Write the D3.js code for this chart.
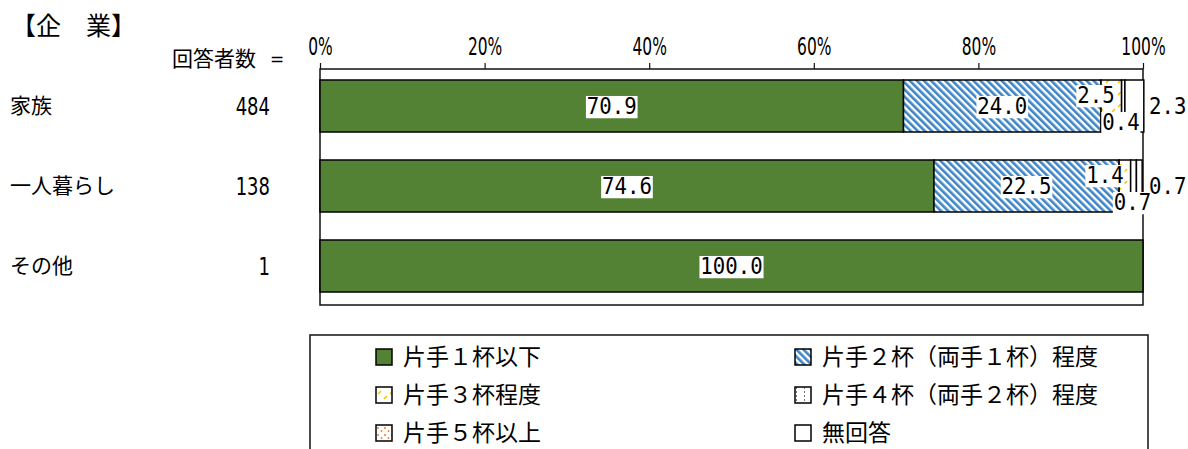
<!DOCTYPE html>
<html>
<head>
<meta charset="utf-8">
<script src="https://cdn.jsdelivr.net/npm/d3@7"></script>
<style>
  body { margin: 0; background: #fff; }
  svg { display: block; }
</style>
</head>
<body>
<div id="chart"></div>
<script>
// data
const categories = ["家族", "一人暮らし", "その他"];
const counts = [484, 138, 1];
const seriesNames = ["片手１杯以下", "片手２杯（両手１杯）程度", "片手３杯程度",
                     "片手４杯（両手２杯）程度", "片手５杯以上", "無回答"];
const rowValues = [
    [70.9, 24.0, 2.5, 0.4, 0.0, 2.3],
    [74.6, 22.5, 1.4, 0.7, 0.0, 0.7],
    [100.0, 0.0, 0.0, 0.0, 0.0, 0.0]
];
const tickValues = [0, 20, 40, 60, 80, 100];

const W = 1188, H = 449;
const jpFont = "'Noto Sans CJK JP', 'Noto Sans', sans-serif";
const numFont = "'DejaVu Sans Mono', monospace";
const narrowFont = "'DejaVu Sans', sans-serif";

const svg = d3.select("#chart").append("svg")
    .attr("width", W)
    .attr("height", H);

// fill patterns
const defs = svg.append("defs");
const fills = ["#548235", "url(#p2)", "url(#p3)", "url(#p4)", "url(#p5)", "#fff"];

const p2 = defs.append("pattern").attr("id", "p2")
    .attr("patternUnits", "userSpaceOnUse")
    .attr("width", 5).attr("height", 5)
    .attr("patternTransform", "rotate(-45)");
p2.append("rect").attr("width", 5).attr("height", 5).attr("fill", "#fff");
p2.append("rect").attr("width", 2.6).attr("height", 5).attr("fill", "#3d85c6");

const p3 = defs.append("pattern").attr("id", "p3")
    .attr("patternUnits", "userSpaceOnUse")
    .attr("width", 12).attr("height", 12);
p3.append("rect").attr("width", 12).attr("height", 12).attr("fill", "#fff");
p3.append("path").attr("d", "M2,11 L5,8 M8,4 L11,1")
    .attr("stroke", "#ffc000").attr("stroke-width", 1.6);

const p4 = defs.append("pattern").attr("id", "p4")
    .attr("patternUnits", "userSpaceOnUse")
    .attr("width", 8).attr("height", 4);
p4.append("rect").attr("width", 8).attr("height", 4).attr("fill", "#fff");
p4.append("rect").attr("x", 1).attr("width", 1).attr("height", 2).attr("fill", "#777");

const p5 = defs.append("pattern").attr("id", "p5")
    .attr("patternUnits", "userSpaceOnUse")
    .attr("width", 7).attr("height", 7);
p5.append("rect").attr("width", 7).attr("height", 7).attr("fill", "#fff");
p5.append("circle").attr("cx", 2).attr("cy", 2).attr("r", 1).attr("fill", "#ed7d31");
p5.append("circle").attr("cx", 5.5).attr("cy", 5).attr("r", 0.9).attr("fill", "#ed7d31");

// scales
const x = d3.scaleLinear().domain([0, 100]).range([320, 1143]);
const y = d3.scaleBand().domain(categories).range([66, 306])
    .paddingInner(0.35).paddingOuter(0.175);

const table = categories.map((c, i) => {
    const row = { cat: c };
    seriesNames.forEach((s, j) => row[s] = rowValues[i][j]);
    return row;
});
const stacked = d3.stack().keys(seriesNames)(table);

// title and headers
svg.append("text")
    .attr("x", 11).attr("y", 35)
    .style("font-family", jpFont).style("font-size", "25px")
    .text("【企　業】");

svg.append("text")
    .attr("x", 172).attr("y", 66)
    .style("font-family", jpFont).style("font-size", "21px")
    .text("回答者数");
svg.append("text")
    .attr("x", 270).attr("y", 65)
    .style("font-family", narrowFont).style("font-size", "17px")
    .text("=");

// plot frame
svg.append("rect")
    .attr("x", x(0)).attr("y", 69)
    .attr("width", x(100) - x(0)).attr("height", 236)
    .attr("fill", "none").attr("stroke", "#111").attr("stroke-width", 1.5);

// top axis
const axis = svg.append("g")
    .attr("transform", "translate(0,69)")
    .call(d3.axisTop(x).tickValues(tickValues).tickFormat(d => d + "%")
        .tickSize(6).tickSizeOuter(0).tickPadding(8));
axis.select(".domain").remove();
axis.selectAll("line").attr("stroke", "#111").attr("stroke-width", 1.2);
axis.selectAll("text")
    .attr("transform", "scale(0.62,1)")
    .style("font-family", narrowFont).style("font-size", "25px").attr("fill", "#000");

// row labels
svg.append("g").selectAll("text").data(categories).join("text")
    .attr("x", 10).attr("y", d => y(d) + y.bandwidth() / 2 + 7)
    .style("font-family", jpFont).style("font-size", "21px")
    .text(d => d);

svg.append("g").selectAll("text").data(categories).join("text")
    .attr("transform", d => `translate(270,${y(d) + y.bandwidth() / 2 + 9}) scale(0.72,1)`)
    .attr("text-anchor", "end")
    .style("font-family", narrowFont).style("font-size", "25px")
    .text((d, i) => counts[i]);

// segments
const segs = [];
stacked.forEach((layer, j) => {
    layer.forEach((s, i) => {
        if (rowValues[i][j] > 0) segs.push({ j, i, x0: s[0], x1: s[1], v: rowValues[i][j], cat: categories[i] });
    });
});

svg.append("g").selectAll("rect").data(segs).join("rect")
    .attr("x", d => x(d.x0))
    .attr("y", d => y(d.cat))
    .attr("width", d => x(d.x1) - x(d.x0))
    .attr("height", y.bandwidth())
    .attr("fill", d => fills[d.j])
    .attr("stroke", "#000")
    .attr("stroke-width", 1.5);

// value labels with white boxes
const labelG = svg.append("g");
segs.forEach(d => {
    const top = y(d.cat), bot = top + y.bandwidth(), mid = top + y.bandwidth() / 2;
    let lx, ly, anchor = "middle";
    if (d.v >= 5) {
        lx = (x(d.x0) + x(d.x1)) / 2; ly = mid + 8;
    } else if (d.j === 2) {
        lx = x(d.x1) - 7; ly = top + 23; anchor = "end";
    } else if (d.j === 3) {
        lx = x(d.x1) - 4; ly = bot - 2;
    } else {
        lx = x(100) + 6; ly = mid + 8; anchor = "start";
    }
    const g = labelG.append("g").attr("transform", `translate(${lx},${ly}) scale(0.9,1)`);
    const t = g.append("text")
        .attr("text-anchor", anchor)
        .style("font-family", numFont).style("font-size", "23px")
        .text(d.v.toFixed(1));
    const bb = t.node().getBBox();
    if (d.v >= 5 || d.j !== 5) {
        g.insert("rect", "text")
            .attr("x", bb.x - 1).attr("y", bb.y + 3)
            .attr("width", bb.width + 2).attr("height", bb.height - 4)
            .attr("fill", "#fff");
    }
});

// legend
svg.append("rect")
    .attr("x", 310).attr("y", 335)
    .attr("width", 838).attr("height", 140)
    .attr("fill", "#fff").attr("stroke", "#111").attr("stroke-width", 1.5);

const legCols = [376, 795], legRows = [357, 395, 433];
const leg = svg.append("g").selectAll("g").data(seriesNames).join("g")
    .attr("transform", (d, i) => `translate(${legCols[i % 2]},${legRows[Math.floor(i / 2)]})`);
leg.append("rect")
    .attr("x", 0).attr("y", -8).attr("width", 16).attr("height", 16)
    .attr("fill", (d, i) => fills[i])
    .attr("stroke", "#000").attr("stroke-width", 1.5);
leg.append("text")
    .attr("x", 27).attr("y", 8)
    .style("font-family", jpFont).style("font-size", "23px")
    .text(d => d);
</script>
</body>
</html>
